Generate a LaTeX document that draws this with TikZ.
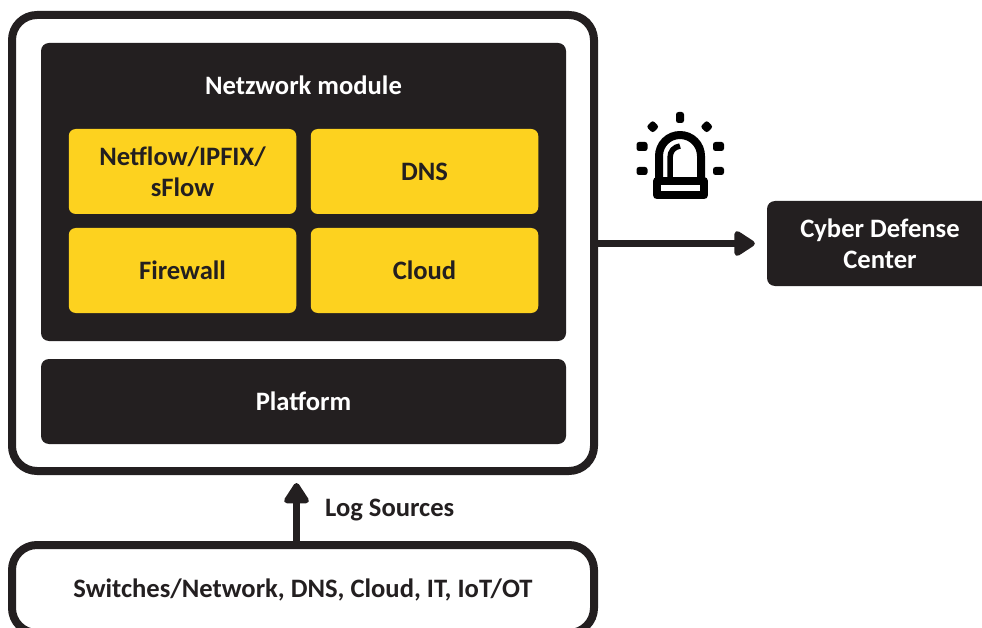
\documentclass[tikz,border=0pt]{standalone}
\usepackage{fontspec}
\setmainfont[Ligatures=Common]{Carlito}
\usetikzlibrary{arrows.meta}
\definecolor{ink}{HTML}{231F20}
\definecolor{gold}{HTML}{FDD21F}
\tikzset{
  x=1pt,y=-1pt,
  frame/.style={draw=ink,line width=8pt,fill=white,rounded corners=25pt,inner sep=0pt},
  darkbox/.style={fill=ink,rounded corners=8pt,inner sep=0pt,text=white,font=\fontsize{26.6}{31}\selectfont\bfseries,align=center},
  goldbox/.style={fill=gold,rounded corners=7pt,inner sep=0pt,text=ink,font=\fontsize{26.6}{31}\selectfont\bfseries,align=center,minimum width=227.5pt,minimum height=85pt},
  caption/.style={inner sep=0pt,font=\fontsize{26.6}{31}\selectfont\bfseries,align=center},
  flow/.style={draw=ink,line width=7.5pt,-{Triangle[width=28pt,length=23pt,round]}},
  ray/.style={fill=black,rounded corners=2.5pt},
  sirenline/.style={draw=black,line width=8pt,line join=round}
}
\begin{document}
\begin{tikzpicture}
\useasboundingbox (0,0) rectangle (982,628);
\clip (0,0) rectangle (982,628);
% outer frame and contents
\node[frame,minimum width=582pt,minimum height=456pt] (outer) at (303,243) {};
\node[darkbox,minimum width=525pt,minimum height=298pt] (net) at (303.5,192) {};
\node[caption,text=white] (nettitle) at (303.5,85.5) {Netzwork module};
\node[goldbox] (flowbox) at (182.5,171.5) {Netflow/IPFIX/\\sFlow};
\node[goldbox] (dns) at (424.5,171.5) {DNS};
\node[goldbox] (fw) at (182.5,270.5) {Firewall};
\node[goldbox] (cloud) at (424.5,270.5) {Cloud};
\node[darkbox,minimum width=525pt,minimum height=85pt] (platform) at (303.5,401.5) {Platform};
% sources
\node[frame,minimum width=582pt,minimum height=88pt] (src) at (303,589) {};
\node[caption,text=ink] (srctext) at (303,589.5) {Switches/Network, DNS, Cloud, IT, IoT/OT};
% cyber defense center
\node[darkbox,minimum width=240pt,minimum height=85pt] (cdc) at (887,243.5) {};
\node[caption,text=white] (cdctext) at (880,244) {Cyber Defense\\Center};
% connectors
\draw[flow,shorten >=12pt] (outer.east |- cdc.west) -- (cdc.west);
\draw[flow,shorten >=8pt] ([xshift=-6.5pt]src.north) -- ([xshift=-6.5pt]outer.south);
\node[caption,text=ink,anchor=west] (logs) at (325,510.5) {Log Sources};
% siren
\draw[sirenline] (659,178) -- (659,156) arc[start angle=180,end angle=360,radius=21] -- (701,178);
\draw[draw=black,line width=5.5pt] (670,177) -- (670,158) .. controls (670,151) and (674,147) .. (680,146);
\draw[sirenline] (657,181) rectangle (704,195.5);
\fill[ray] (676,112) rectangle (684,123);
\fill[ray,rotate around={45:(652.7,126.7)}] (648.2,122.2) rectangle (657.2,131.2);
\fill[ray,rotate around={-45:(706.7,126.7)}] (702.2,122.2) rectangle (711.2,131.2);
\fill[ray] (636.5,142) rectangle (647.5,151);
\fill[ray] (713,142) rectangle (724,151);
\fill[ray] (636.5,167) rectangle (647.5,175);
\fill[ray] (713,167) rectangle (724,175);
\end{tikzpicture}
\end{document}
